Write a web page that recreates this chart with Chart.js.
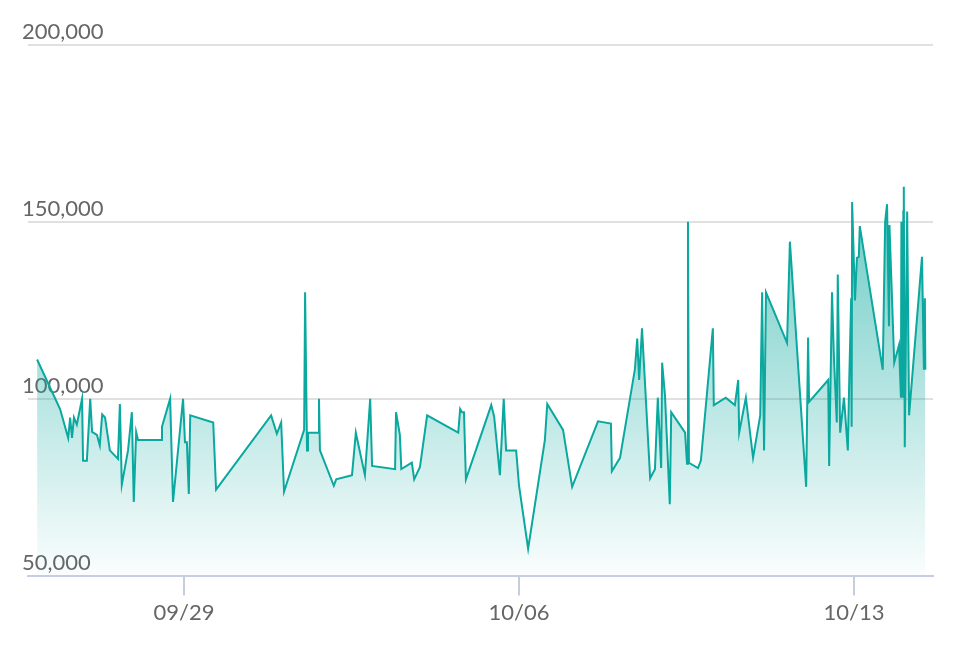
<!DOCTYPE html>
<html><head><meta charset="utf-8">
<script src="https://cdn.jsdelivr.net/npm/chart.js@4/dist/chart.umd.min.js"></script>
<style>html,body{margin:0;padding:0;background:#fff}#w{width:962px;height:648px}</style>
</head><body><div id="w"><canvas id="c"></canvas></div>
<script>
// x = days relative to 09/29 00:00
const days = [-3.07,-2.59,-2.42,-2.38,-2.34,-2.30,-2.24,-2.13,-2.11,-2.03,-1.96,-1.92,-1.82,-1.76,-1.71,-1.65,-1.55,-1.38,-1.34,-1.30,-1.17,-1.09,-1.05,-1.00,-0.96,-0.46,-0.46,-0.29,-0.23,-0.02,0.02,0.06,0.10,0.13,0.61,0.67,1.82,1.94,2.03,2.09,2.51,2.53,2.57,2.59,2.82,2.82,2.84,3.13,3.18,3.51,3.59,3.78,3.89,3.93,4.41,4.43,4.51,4.54,4.76,4.81,4.93,5.08,5.73,5.77,5.81,5.85,5.89,6.42,6.48,6.60,6.68,6.73,6.94,7.00,7.19,7.54,7.59,7.92,8.11,8.65,8.92,8.94,9.11,9.42,9.47,9.51,9.57,9.74,9.84,9.90,9.97,9.99,10.05,10.15,10.18,10.47,10.51,10.53,10.55,10.74,10.80,11.05,11.07,11.32,11.51,11.58,11.60,11.74,11.89,12.04,12.08,12.12,12.16,12.60,12.66,13.00,13.04,13.06,13.46,13.48,13.54,13.58,13.64,13.66,13.71,13.79,13.87,13.90,13.94,13.95,13.96,14.02,14.06,14.10,14.12,14.60,14.65,14.69,14.73,14.74,14.84,14.94,14.98,14.99,15.02,15.03,15.04,15.06,15.11,15.15,15.42,15.46,15.48,15.49];
const values = [111100,97100,88900,94700,88900,94700,92700,100000,82500,82500,100000,90600,89800,86800,95600,94700,85400,83000,98500,75700,85400,96200,70800,90600,88300,88300,92100,100000,70800,100000,87700,87700,73100,95300,93300,74300,95300,90100,93300,73700,91200,130100,85400,90400,90400,100000,85400,75400,77200,78400,90400,78400,100000,81000,80100,96200,89800,80100,81900,77200,80700,95300,90400,97100,96200,96200,77200,98200,95000,78400,100000,85400,85400,75400,57600,88300,98500,91200,75100,93600,93000,79500,83300,108200,117000,105300,119900,77500,80100,100300,80400,110200,100900,70200,96200,90400,81600,150000,81900,80400,82500,119900,98200,100300,98200,105300,90400,100300,83300,95300,130100,85400,130100,115800,144400,75100,117300,99100,105300,81000,130100,111700,93300,135100,90400,100300,85400,105300,128400,92100,155600,127800,139800,140100,148800,108200,150000,155000,120500,149100,110200,115200,100300,150000,100300,152900,159900,86300,152900,95300,140100,108200,128400,108200];
const tickDays = [0,7,14];
const tickLabels = ['09/29','10/06','10/13'];
const yTicks = [50000,100000,150000,200000];

const ctx = document.getElementById('c').getContext('2d');
new Chart(ctx,{
  type:'line',
  data:{datasets:[{
    data: days.map((d,i)=>({x:d,y:values[i]})),
    borderColor:'#0aa89e', borderWidth:2, pointRadius:0, tension:0,
    fill:'start',
    backgroundColor:(c)=>{const a=c.chart.chartArea; if(!a) return 'rgba(10,168,158,0.4)';
      const g=c.chart.ctx.createLinearGradient(0,a.top+150,0,a.bottom);
      g.addColorStop(0,'rgba(10,168,158,0.6)'); g.addColorStop(1,'rgba(10,168,158,0.02)'); return g;}
  }]},
  options:{
    responsive:true, maintainAspectRatio:false, animation:false,
    layout:{padding:{left:28,right:29,top:45,bottom:18}},
    plugins:{legend:{display:false},tooltip:{enabled:false}},
    scales:{
      x:{type:'linear', min:-3.26, max:15.65,
        afterBuildTicks:(s)=>{s.ticks=tickDays.map(v=>({value:v}));},
        ticks:{callback:(v)=>tickLabels[tickDays.indexOf(v)], color:'#666', font:{size:22, family:'Lato'}, maxRotation:0, padding:4},
        grid:{drawOnChartArea:false, tickLength:20, color:'#c8cce0', lineWidth:2},
        border:{color:'#c8cce0', width:2}},
      y:{min:50000, max:200000,
        afterBuildTicks:(s)=>{s.ticks=yTicks.map(v=>({value:v}));},
        ticks:{mirror:true, padding:-2, labelOffset:-13, color:'#666', font:{size:22, family:'Lato'},
          callback:(v)=>v.toLocaleString('en-US')},
        grid:{color:'#e0e0e0', lineWidth:2, drawTicks:false},
        border:{display:false}}
    }
  }
});
</script></body></html>
